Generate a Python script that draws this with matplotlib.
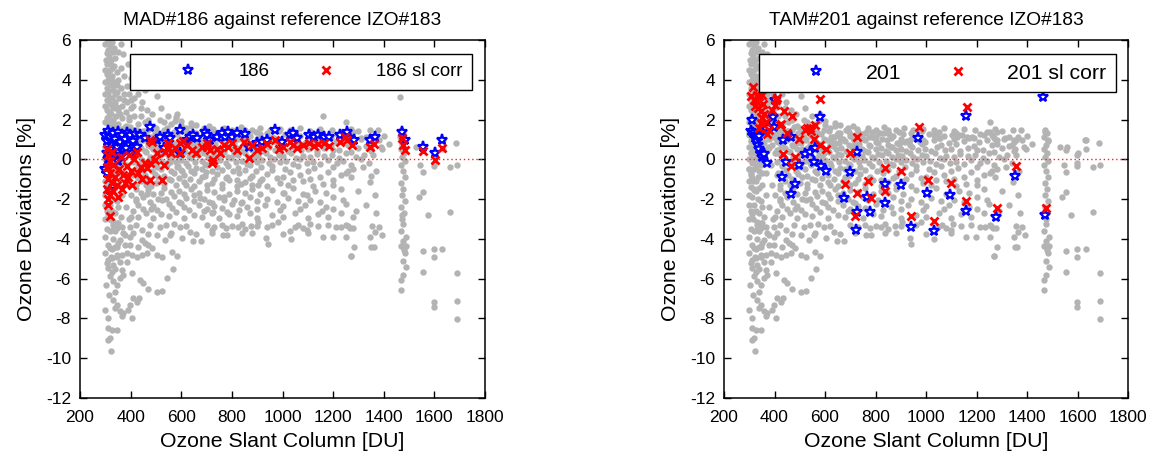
import matplotlib
matplotlib.use("Agg")
import matplotlib.pyplot as plt
from matplotlib.lines import Line2D

plt.rcParams['font.family'] = ['Liberation Sans', 'DejaVu Sans']
plt.rcParams['axes.unicode_minus'] = False

# ---------------- data ----------------
titles = ["MAD#186 against reference IZO#183", "TAM#201 against reference IZO#183"]
labels_main = ["186", "201"]
labels_corr = ["186 sl corr", "201 sl corr"]
x_ticks = [200, 400, 600, 800, 1000, 1200, 1400, 1600, 1800]
y_ticks = [-12, -10, -8, -6, -4, -2, 0, 2, 4, 6]

# common gray background cloud (other instruments vs IZO#183)
gray_column = [(312,6.0),(325,5.9),(318,5.7),(310,5.5),(330,5.4),(315,5.2),(322,5.0),(308,4.8),(335,4.7),
    (318,4.5),(345,4.4),(305,4.3),(328,4.2),(312,4.0),(352,4.0),(338,3.9),(320,3.8),(305,3.6),(360,3.6),
    (330,3.5),(345,3.4),(312,3.3),(372,3.3),(325,3.1),(355,3.1),(305,3.0),(340,2.9),(385,2.9),(318,2.8),
    (365,2.7),(330,2.6),(400,2.6),(308,2.5),(350,2.5),(380,2.4),(322,2.3),(342,2.2),(415,2.2),(305,2.1),
    (365,2.1),(330,2.0),(395,2.0),(312,1.9),(352,1.8),(430,1.8),(380,1.7),(325,1.6),(305,1.5),(410,1.5),
    (340,1.4),(365,1.3),(450,1.4),(315,1.2),(390,1.1),(330,1.0),(305,0.9),(355,0.8),(420,0.9),(318,0.6),
    (375,0.6),(340,0.4),(305,0.3),(400,0.3),(325,0.1),(360,0.0),(310,-0.2),(345,-0.3),(385,-0.3),(320,-0.5),
    (305,-0.8),(365,-0.7),(335,-0.9),(410,-0.8),(315,-1.1),(350,-1.3),(305,-1.4),(390,-1.3),(328,-1.6),
    (365,-1.8),(310,-1.9),(345,-2.1),(420,-2.0),(320,-2.3),(380,-2.4),(305,-2.6),(338,-2.7),(360,-2.9),
    (315,-3.0),(400,-2.9),(330,-3.3),(307,-3.5),
    (300,5.8),(335,5.6),(302,5.0),(340,5.1),(300,4.5),(325,4.6),(300,3.9),(332,3.7),(300,3.3),(338,3.3),
    (300,2.7),(315,2.4),(300,1.9),(335,1.8),(300,1.3),(322,1.0),(300,0.6),(338,0.2),(300,0.0),(325,-0.4),
    (300,-0.5),(338,-0.6),(300,-1.1),(328,-1.1),(300,-1.8),(335,-2.0),(300,-2.3),(325,-2.6),(300,-3.0),
    (345,-3.2),(318,-3.6),(300,-3.9),(330,-4.0),(310,-4.3),(340,-4.4),(300,-4.7),(322,-4.9),(345,-4.8),
    (315,5.95),(305,5.35),(320,4.85),(312,4.25),(326,3.95),(310,3.45),(348,3.75),(316,3.05),(328,2.75),
    (345,2.65),(312,2.15),(358,2.3),(320,1.75),(345,1.6),(310,1.1),(335,1.15),(350,0.55),(315,0.35),
    (330,-0.15),(350,-0.7),(312,-0.95),(340,-1.45),(318,-1.5),(352,-2.4),(312,-2.75),(340,-3.6),
    (325,-4.5),(305,-5.2),(338,-5.5),(352,-4.2),(370,-3.7),(302,-6.3),(315,-6.8),(300,-7.6),(312,-8.0)]

gray_funnel = [(444,2.9),(503,3.2),(549,2.2),(582,2.3),(516,2.0),(464,2.5),(480,3.8),(405,3.8),(430,3.3),
    (600,1.95),(640,1.85),(470,2.0),(520,2.6),(410,2.7),(440,2.2),(490,1.7),(530,1.9),(455,3.5),(420,4.4),
    (390,4.8),(370,5.3),(360,5.8),(395,3.3),(470,1.5),(500,1.6),(420,1.5),(360,4.6),(350,5.4),(372,4.2),
    (385,3.7),(375,3.0),(400,4.1),(415,3.1),(440,2.6),(455,1.9),(485,2.3),(545,1.6),(575,1.95),(620,1.6),
    (660,1.75),(710,1.7)]

gray_band = [(560,1.8),(600,1.75),(640,1.7),(690,1.6),(725,1.55),(770,1.6),(800,1.45),(835,1.65),(880,1.5),
    (912,1.6),(950,1.45),(990,1.55),(1030,1.5),(1070,1.6),(1110,1.4),(1150,1.55),(1195,1.45),(1240,1.35),
    (1300,1.4),
    (430,1.25),(470,1.1),(510,1.3),(545,1.15),(585,1.25),(625,1.1),(660,1.3),(700,1.15),(745,1.25),(790,1.1),
    (835,1.3),(870,1.15),(910,1.25),(960,1.1),(1010,1.25),(1070,1.15),(1130,1.2),(1190,1.05),(1260,1.2),
    (1330,1.1),(1400,1.15),
    (415,0.85),(450,0.95),(490,0.8),(525,0.95),(565,0.85),(605,0.95),(640,0.8),(680,0.9),(720,0.8),(760,0.95),
    (800,0.85),(845,0.95),(885,0.8),(925,0.9),(975,0.85),(1030,0.95),(1090,0.8),(1150,0.9),(1210,0.85),
    (1280,0.75),(1350,0.85),
    (440,0.55),(475,0.65),(510,0.5),(550,0.6),(590,0.5),(630,0.65),(665,0.55),(705,0.6),(745,0.5),(780,0.65),
    (820,0.55),(860,0.6),(900,0.5),(945,0.6),(995,0.5),(1045,0.6),(1100,0.5),(1165,0.55),(1225,0.45),
    (1300,0.55),(1395,0.5),
    (420,0.25),(460,0.35),(500,0.2),(535,0.3),(575,0.2),(615,0.35),(650,0.25),(690,0.3),(730,0.2),(770,0.35),
    (810,0.25),(850,0.3),(890,0.2),(935,0.3),(985,0.2),(1035,0.3),(1080,0.15),(1135,0.25),(1195,0.2),
    (1250,0.3),(1320,0.2),
    (445,-0.05),(485,0.05),(520,-0.1),(560,0.0),(600,-0.05),(640,0.05),(680,-0.1),(715,0.0),(755,-0.05),
    (795,0.05),(840,-0.1),(880,0.0),(920,-0.05),(965,0.0),(1015,-0.1),(1070,0.0),(1120,-0.15),(1180,-0.05),
    (1240,-0.1),(1310,0.0),
    (430,-0.35),(470,-0.3),(505,-0.4),(545,-0.3),(585,-0.4),(625,-0.35),(660,-0.45),(700,-0.3),(740,-0.4),
    (785,-0.35),(825,-0.45),(870,-0.3),(915,-0.4),(960,-0.35),(1010,-0.5),(1060,-0.35),(1125,-0.45),
    (1200,-0.4),(1280,-0.5),
    (415,-0.7),(455,-0.8),(495,-0.75),(530,-0.85),(570,-0.7),(610,-0.8),(650,-0.7),(695,-0.85),(740,-0.75),
    (780,-0.9),(830,-0.7),(880,-0.85),(940,-0.75),(1000,-0.9),(1070,-0.8),(1150,-0.9),(1230,-0.8)]

gray_band_fill = [(455,1.4),(495,1.3),(530,1.45),(570,1.35),(615,1.4),(650,1.3),(685,1.45),(730,1.35),
    (765,1.4),(810,1.3),(850,1.45),(895,1.35),(940,1.3),(985,1.4),(1050,1.35),(1120,1.3),(1215,1.25),
    (1280,1.35),
    (405,1.05),(440,1.0),(480,1.1),(520,1.0),(555,1.05),(595,1.0),(630,1.1),(670,1.0),(710,1.05),(750,1.0),
    (785,1.1),(825,1.0),(860,1.05),(900,1.0),(945,1.05),(990,0.95),(1050,1.05),(1110,1.0),(1170,1.05),
    (1240,0.95),(1310,1.0),(1380,0.95),
    (430,0.75),(470,0.7),(505,0.8),(540,0.7),(580,0.75),(620,0.7),(655,0.8),(695,0.7),(735,0.75),(775,0.7),
    (810,0.8),(850,0.7),(895,0.75),(935,0.7),(985,0.75),(1060,0.7),(1120,0.75),(1190,0.65),(1260,0.7),
    (1330,0.65),(1420,0.75),
    (410,0.45),(455,0.4),(490,0.5),(530,0.4),(570,0.45),(610,0.4),(645,0.5),(685,0.4),(725,0.45),(760,0.4),
    (800,0.5),(840,0.4),(880,0.45),(920,0.4),(970,0.45),(1020,0.4),(1075,0.45),(1135,0.4),(1200,0.45),
    (1270,0.35),(1350,0.4),
    (435,0.15),(475,0.1),(510,0.2),(550,0.1),(590,0.15),(630,0.1),(665,0.2),(705,0.1),(745,0.15),(785,0.1),
    (825,0.2),(865,0.1),(905,0.15),(950,0.1),(1000,0.15),(1055,0.05),(1110,0.1),(1165,0.15),(1225,0.05),
    (1290,0.1),
    (410,-0.15),(460,-0.2),(500,-0.15),(540,-0.2),(580,-0.15),(620,-0.2),(655,-0.15),(695,-0.25),(735,-0.15),
    (775,-0.2),(815,-0.15),(860,-0.25),(900,-0.15),(945,-0.2),(990,-0.15),(1040,-0.25),(1095,-0.2),
    (1150,-0.25),(1215,-0.2),(1270,-0.3),(1340,-0.2),
    (445,-0.55),(485,-0.6),(520,-0.5),(560,-0.6),(600,-0.55),(640,-0.6),(680,-0.5),(720,-0.6),(760,-0.55),
    (805,-0.6),(850,-0.55),(895,-0.6),(960,-0.55),(1030,-0.65),(1100,-0.6),(1180,-0.65),(1260,-0.6),
    (430,-0.95),(470,-1.0),(510,-0.9),(550,-1.0),(590,-0.95),(635,-1.0),(680,-0.9),(730,-1.0),(775,-0.95),
    (820,-1.05),(870,-0.95),(920,-1.0),(980,-0.95),(1040,-1.05),(1110,-1.0),(1200,-1.05)]

gray_mid = [(440,-1.1),(500,-1.2),(560,-1.05),(610,-1.15),(670,-1.1),(720,-1.2),(790,-1.05),(850,-1.15),
    (910,-1.1),(990,-1.2),(1080,-1.1),(1160,-1.25),
    (420,-1.5),(470,-1.55),(530,-1.45),(590,-1.6),(640,-1.5),(700,-1.55),(760,-1.45),(820,-1.6),(880,-1.5),
    (960,-1.55),(1040,-1.45),(1130,-1.6),(1230,-1.5),
    (450,-1.9),(510,-2.0),(570,-1.85),(620,-1.95),(690,-2.0),(750,-1.9),(810,-2.05),(870,-1.9),(940,-2.0),
    (1020,-1.95),(1110,-2.05),(1200,-1.9),
    (430,-2.3),(490,-2.35),(550,-2.25),(610,-2.4),(670,-2.3),(730,-2.35),(800,-2.25),(860,-2.4),(930,-2.3),
    (1000,-2.35),(1090,-2.3),(1170,-2.4),(1250,-2.25),
    (460,-2.7),(520,-2.75),(580,-2.65),(650,-2.8),(720,-2.7),(790,-2.75),(870,-2.7),(960,-2.8),(1050,-2.7),
    (1140,-2.75),(1230,-2.7),
    (400,-1.8),(410,-2.6),(395,-3.0),(480,-2.5),(540,-2.0),(600,-2.2),(520,-1.7),(460,-1.3),(580,-1.3),
    (650,-1.8),(690,-2.6),(720,-2.2),
    (420,-1.3),(480,-1.35),(530,-1.25),(620,-1.3),(650,-1.35),(700,-1.3),(760,-1.25),(820,-1.35),(880,-1.3),
    (940,-1.35),(1020,-1.3),(1120,-1.35),(1200,-1.3),
    (440,-1.7),(490,-1.75),(560,-1.65),(610,-1.75),(670,-1.7),(730,-1.65),(790,-1.75),(850,-1.7),(910,-1.75),
    (1000,-1.7),(1080,-1.75),(1170,-1.7),
    (420,-2.1),(475,-2.15),(525,-2.05),(590,-2.15),(650,-2.1),(710,-2.15),(770,-2.05),(840,-2.15),(900,-2.1),
    (980,-2.15),(1060,-2.1),(1150,-2.15),(1240,-2.05),
    (450,-2.5),(505,-2.55),(565,-2.45),(630,-2.55),(700,-2.5),(760,-2.45),(830,-2.55),(900,-2.5),(990,-2.55),
    (1070,-2.5),(1200,-2.5),
    (430,-2.9),(490,-2.95),(550,-2.85),(610,-2.95),(680,-2.9),(750,-2.95),(820,-2.85),(900,-2.95),(1000,-2.9),
    (1100,-2.95),(1180,-2.9)]

gray_low = [(332,-3.13),(352,-3.21),(365,-3.38),(332,-3.55),(345,-3.46),
    (398,-3.38),(444,-3.55),(477,-3.3),(516,-3.38),(503,-3.8),(536,-4.05),(556,-3.8),(572,-3.25),(595,-3.38),
    (602,-3.97),(635,-3.63),(648,-4.13),(677,-4.13),(398,-3.88),(444,-4.05),(378,-3.8),
    (319,-4.47),(345,-4.39),(358,-4.05),(378,-4.3),(398,-4.3),(431,-4.39),(457,-4.22),(470,-4.3),(483,-4.47),
    (503,-4.8),(523,-4.92),(562,-4.64),(582,-4.85),
    (312,-5.05),(325,-4.97),(345,-4.89),(365,-4.8),(385,-4.72),(404,-4.8),(424,-4.89),(444,-4.8),(464,-4.72),
    (358,-5.14),(385,-5.14),(332,-5.31),
    (312,-5.47),(325,-5.64),(319,-5.89),(332,-6.14),(345,-6.31),(358,-5.98),(371,-5.81),(365,-5.56),
    (404,-5.73),(437,-6.06),(450,-6.23),(470,-6.53),(503,-6.65),(523,-6.61),(543,-5.98),(566,-5.49),
    (338,-6.65),(332,-7.07),(345,-7.32),(338,-7.48),(358,-7.65),(371,-7.74),(391,-7.57),(398,-7.32),
    (411,-6.98),(424,-7.15),(435,-6.98),(404,-7.99),(365,-7.9),
    (312,-8.49),(325,-8.57),(345,-8.57),(319,-8.99),(312,-9.08),(323,-9.63),
    (420,-3.3),(540,-3.3),(620,-3.35),(700,-3.3),(730,-3.4),(760,-3.3),(900,-3.35),(960,-3.3),(1140,-3.35),
    (410,-3.7),(470,-3.75),(560,-3.7),(660,-3.75),(720,-3.7),(880,-3.7),(1000,-3.75),(1100,-3.7),
    (764,-3.8),(781,-3.8),(777,-3.46),(800,-3.35),(823,-3.38),(839,-3.25),(839,-3.72),(850,-3.51),(876,-3.35),
    (903,-3.13),(935,-3.97),(942,-4.25),(982,-3.13),(1032,-4.02),(1048,-3.38),(1063,-3.3),(1080,-3.46),
    (1098,-3.55),(1107,-3.25),(1179,-3.3),(1160,-3.88),(1199,-3.88),(1212,-3.41),(1232,-3.38),(1252,-3.88),
    (1258,-3.35),(1269,-4.85)]

gray_tail = [(1252,-3.3),(1265,-3.46),(1278,-3.46),(1281,-4.42),(1270,-4.84),(1355,-3.35),(1381,-3.38),
    (1364,-3.63),(1394,-3.8),(1347,-3.92),(1351,-4.42),(1360,-4.39),(1476,-3.25),(1476,-4.13),(1469,-4.35),
    (1487,-4.35),(1479,-4.55),(1483,-4.72),(1476,-5.09),(1487,-5.42),(1476,-5.81),(1467,-6.09),(1467,-6.56),
    (1555,-4.59),(1597,-4.52),(1597,-4.89),(1632,-4.52),(1555,-5.67),(1691,-5.73),(1691,-7.13),(1691,-8.04),
    (1597,-7.17),(1597,-7.4),
    (1252,1.9),(1272,1.55),(1265,1.15),(1278,0.98),(1311,1.06),(1344,1.48),(1357,0.98),(1377,1.48),
    (1390,0.64),(1351,0.5),(1357,0.2),(1318,-0.37),(1344,-1.12),(1364,-1.79),(1371,-2.71),(1272,-0.9),
    (1252,-0.7),(1529,0.64),(1555,0.45),(1555,-0.62),(1555,-1.62),(1597,0.22),(1597,-0.2),(1634,0.98),
    (1634,0.5),(1687,0.81),(1661,-2.63),(1575,-2.79),(1597,-0.36),(1690,-0.3),(1660,-0.4),(1540,-1.9),
    (1545,-0.3),(1300,-1.6),(1330,-2.3),(1290,-2.6),(1340,0.7),(1370,-0.6),
    (1470,1.5),(1478,1.3),(1466,1.1),(1482,0.9),(1474,0.7),(1468,0.5),(1480,0.3),(1472,0.1),(1485,-0.1),
    (1468,-0.3),(1476,-0.6),(1482,-0.9),(1470,-1.2),(1478,-1.5),(1472,-1.8),(1484,-2.1),(1470,-2.4),
    (1480,-2.7),(1474,-3.0),(1467,-3.6),(1487,-3.9)]

# MAD#186 deviations (blue) and slant-corrected (red)
mad186 = [(299,1.2),(305,0.9),(312,1.4),(319,1.1),(325,0.7),(332,1.3),(338,1.0),(345,0.6),(351,1.35),
    (358,0.85),(365,1.2),(371,0.4),(378,1.0),(384,1.3),(391,0.7),(398,1.2),(404,0.3),(411,0.9),(417,1.25),
    (424,0.6),(305,0.3),(312,0.0),(299,-0.5),(305,-0.7),(318,-1.54),(320,0.5),(340,0.2),(360,0.15),
    (380,0.55),(350,-0.1),
    (437,1.23),(457,1.06),(477,1.65),(503,0.98),(516,1.14),(549,1.23),(556,1.06),(595,1.48),(595,0.3),
    (530,0.55),(622,0.98),(635,1.14),(648,1.23),(661,1.06),(694,1.39),(701,1.23),(714,0.98),(740,1.14),
    (760,1.31),(773,1.14),(786,1.39),(800,1.14),(819,1.31),(852,1.27),(866,0.64),(898,0.81),(918,0.89),
    (938,0.98),(971,1.48),(997,0.89),(1030,1.23),(1043,1.31),(1057,1.06),(1103,1.23),(1123,1.14),
    (1142,1.23),(1162,1.14),(1182,1.14),(1228,1.23),(1254,1.39),(1268,1.06),(1281,0.98),(1347,0.98),
    (1366,1.14),(1472,1.39),(1485,0.98),(1557,0.64),(1601,0.3),(1630,0.98)]

mad186_corr = [(305,0.5),(312,0.2),(318,-0.1),(325,0.35),(305,-0.4),(320,-0.7),(330,-0.3),(310,-1.0),
    (325,-1.2),(340,-0.9),(305,-1.5),(318,-1.8),(332,-1.6),(310,-2.0),(345,-1.3),(355,-0.5),(360,0.1),
    (350,-1.9),(319,-2.84),(310,-2.3),(370,-0.8),(378,-1.2),(365,-1.5),(385,-0.36),(390,-0.9),(400,-0.6),
    (405,-1.3),(395,0.2),(415,0.0),(424,0.39),(431,-0.7),(440,-0.4),(445,-1.0),(455,-0.2),(464,-0.45),
    (477,-1.03),(477,-0.2),(483,0.89),(497,-0.03),(505,0.3),(523,-1.03),(530,-0.3),(536,0.39),(549,0.64),
    (560,0.3),(575,0.55),(595,0.31),(605,0.9),(622,0.73),(641,0.48),(660,0.3),(680,0.6),(701,0.81),
    (712,0.45),(727,-0.03),(740,0.5),(755,0.3),(767,0.73),(785,0.6),(800,0.8),(820,0.45),(846,0.89),
    (866,0.05),(880,0.7),(900,0.45),(920,0.55),(938,0.75),(971,0.98),(985,0.5),(1000,0.6),(1030,0.85),
    (1043,0.7),(1057,0.55),(1080,0.7),(1103,0.8),(1123,0.65),(1142,0.75),(1162,0.8),(1182,0.65),
    (1228,0.85),(1248,1.14),(1254,0.95),(1275,0.7),(1347,0.6),(1360,0.75),(1472,1.06),(1478,0.7),
    (1485,0.45),(1557,0.4),(1601,-0.03),(1630,0.55),(720,-0.2),(477,0.98),(595,0.81),(549,0.8),(700,0.6)]

# TAM#201 deviations (blue) and slant-corrected (red)
tam201 = [(309,1.98),(305,1.4),(316,1.3),(322,1.05),(330,0.9),(335,0.7),(340,0.5),(345,0.3),(350,0.1),
    (325,1.2),(338,1.15),(355,1.5),(365,1.55),(378,1.64),(398,1.64),(371,-0.16),(360,0.25),(395,2.15),
    (402,2.99),(435,0.98),(467,1.14),(444,-0.11),(428,-0.87),(481,-1.23),(465,-1.74),(498,-0.26),
    (520,0.25),(540,0.39),(560,0.56),(556,-0.11),(579,2.12),(586,-0.36),(603,-0.57),(698,-0.62),(725,0.39),
    (676,-1.96),(725,-2.63),(721,-3.55),(768,-1.87),(780,-2.63),(837,-1.24),(837,-2.21),(902,-1.29),
    (939,-3.38),(968,1.09),(1005,-1.7),(1030,-3.6),(1097,-1.79),(1157,-2.59),(1159,2.18),(1278,-2.88),
    (1351,-0.83),(1463,3.15),(1473,-2.79)]

tam201_corr = [(313,3.62),(308,3.2),(318,3.0),(325,2.95),(330,3.25),(340,3.2),(349,3.24),(322,2.7),
    (335,2.6),(345,2.45),(355,2.8),(360,2.3),(345,1.81),(352,2.1),(340,1.6),(365,1.9),(371,1.26),(380,1.5),
    (392,2.5),(406,2.98),(411,3.07),(400,2.75),(424,1.76),(437,2.43),(421,1.73),(448,1.31),(470,2.18),
    (498,1.01),(520,1.5),(530,1.6),(540,1.56),(543,1.4),(562,1.73),(558,1.03),(579,3.04),(582,0.72),
    (603,0.51),(432,0.27),(481,0.1),(467,-0.36),(727,1.11),(698,0.31),(678,-1.24),(771,-1.07),(725,-1.7),
    (720,-2.83),(781,-1.96),(837,-0.45),(839,-1.59),(902,-0.57),(942,-2.83),(971,1.65),(1008,-1.03),
    (1032,-3.08),(1100,-1.2),(1163,2.65),(1157,-2.12),(1281,-2.46),(1355,-0.33),(1476,-2.46)]

gray_common = gray_column + gray_funnel + gray_band + gray_band_fill + gray_mid + gray_low + gray_tail

# ---------------- figure ----------------
W, H = 1156, 463
fig = plt.figure(figsize=(W / 100, H / 100), dpi=100)
axes_px = [(80, 40, 405, 358), (724, 40, 404, 358)]
legend_anchor = [(0.968, 0.961), (0.970, 0.961)]
legend_fs = [13.4, 15.3]
legend_hl = [5.2, 4.45]
legend_bp = [0.5, 0.45]
GRAY = (0.70, 0.70, 0.70)

panels = [
    (mad186, mad186_corr, gray_common + tam201),
    (tam201, tam201_corr, gray_common + mad186),
]

for i, (blue_pts, red_pts, gray_pts) in enumerate(panels):
    l, t, w, h = axes_px[i]
    ax = fig.add_axes([l / W, (H - t - h) / H, w / W, h / H])
    gx, gy = zip(*gray_pts)
    bx, by = zip(*blue_pts)
    rx, ry = zip(*red_pts)
    ax.plot(gx, gy, 'o', color=GRAY, ms=4.6, mec='none', zorder=1)
    ax.axhline(0, color='#ff2020', ls=(0, (1, 2)), lw=1.0, zorder=2)
    ax.plot(bx, by, '*', color='blue', ms=8, mfc='white', mec='blue', mew=1.6, zorder=3)
    ax.plot(rx, ry, 'x', color='red', ms=5.5, mew=2.0, zorder=4)

    ax.set_xlim(200, 1800)
    ax.set_ylim(-12, 6)
    ax.set_xticks(x_ticks)
    ax.set_yticks(y_ticks)
    ax.tick_params(direction='in', top=True, right=True, length=5, width=1,
                   labelsize=12.5)
    ax.tick_params(axis='x', pad=9)
    ax.tick_params(axis='y', pad=6.5)
    for sp in ax.spines.values():
        sp.set_linewidth(1.1)
    ax.set_title(titles[i], fontsize=13.8, pad=11)
    ax.set_xlabel("Ozone Slant Column [DU]", fontsize=15.3, labelpad=5)
    ax.set_ylabel("Ozone Deviations [%]", fontsize=15.3, labelpad=7)

    h1 = Line2D([], [], ls='none', marker='*', color='blue', ms=8, mfc='white', mec='blue', mew=1.6)
    h2 = Line2D([], [], ls='none', marker='x', color='red', ms=5.5, mew=2.0)
    leg = ax.legend([h1, h2], [labels_main[i], labels_corr[i]], ncol=2,
                    loc='upper right', bbox_to_anchor=legend_anchor[i], borderaxespad=0,
                    fontsize=legend_fs[i], frameon=True, fancybox=False,
                    edgecolor='black', framealpha=1, handlelength=legend_hl[i],
                    handletextpad=0.1, columnspacing=0.45, borderpad=legend_bp[i])
    leg.get_frame().set_linewidth(1.0)

fig.savefig("out.png", dpi=100)
